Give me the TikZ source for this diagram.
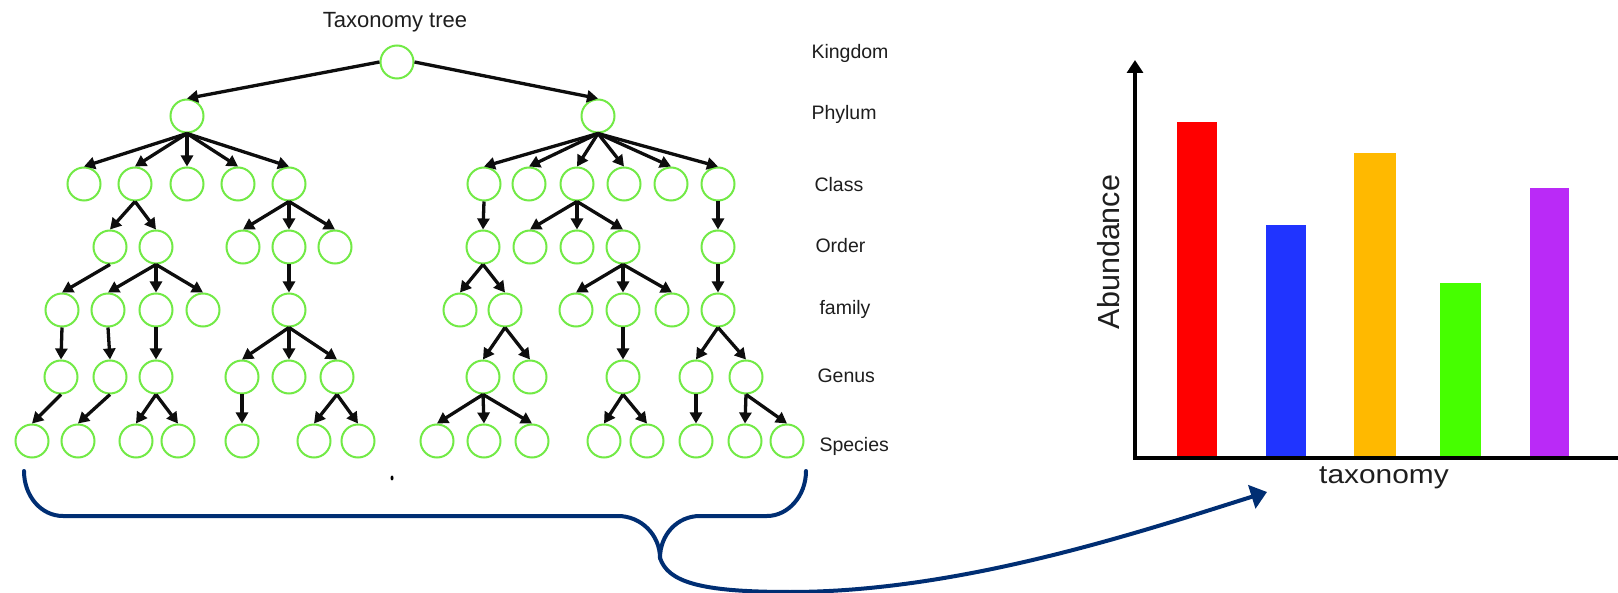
\documentclass[tikz,border=0pt]{standalone}
\usepackage{fontspec}
\setmainfont{Liberation Sans}
\usetikzlibrary{arrows.meta}
\definecolor{tgreen}{RGB}{114,234,70}
\definecolor{navy}{RGB}{0,46,115}
\definecolor{txt}{RGB}{30,30,30}
\definecolor{bred}{RGB}{255,0,0}
\definecolor{bblue}{RGB}{32,52,255}
\definecolor{borange}{RGB}{255,185,0}
\definecolor{bgreen}{RGB}{70,255,0}
\definecolor{bpurple}{RGB}{186,42,247}
\tikzset{
  tn/.style={circle, draw=tgreen, line width=2pt, minimum size=33pt, inner sep=0pt},
  arr/.style={-{Triangle[length=11pt,width=12pt]}, line width=3.3pt, black!95},
  lvl/.style={anchor=base west, text=txt, font=\fontsize{19.5}{22}\selectfont},
  axisline/.style={line width=4pt, black},
  bracepath/.style={navy, line width=4pt, line cap=round},
}
\begin{document}
\begin{tikzpicture}[x=1pt,y=-1pt]
\useasboundingbox (0,0) rectangle (1618,593);
\fill[white] (0,0) rectangle (1618,593);

% title
\node[anchor=base, text=txt, font=\fontsize{22}{26}\selectfont] (title) at (395,28) {Taxonomy tree};

% tree nodes
\node[tn] (r) at (397,62) {};
\node[tn] (pL) at (187,116) {};
\node[tn] (pR) at (598,116) {};
\foreach \n/\x in {cL1/84,cL2/135,cL3/187,cL4/238,cL5/289,cR1/484,cR2/529,cR3/577,cR4/624,cR5/671,cR6/718}
  \node[tn] (\n) at (\x,184) {};
\foreach \n/\x in {oL1/110,oL2/156,oL3/243,oL4/289,oL5/335,oR1/483,oR2/530,oR3/577,oR4/623,oR5/718}
  \node[tn] (\n) at (\x,247) {};
\foreach \n/\x in {fL1/62,fL2/108,fL3/156,fL4/203,fL5/289,fR1/460,fR2/505,fR3/576,fR4/623,fR5/672,fR6/718}
  \node[tn] (\n) at (\x,310) {};
\foreach \n/\x in {gL1/61,gL2/110,gL3/156,gL4/242,gL5/289,gL6/337,gR1/483,gR2/530,gR3/623,gR4/696,gR5/746}
  \node[tn] (\n) at (\x,377) {};
\foreach \n/\x in {sL1/32,sL2/78,sL3/136,sL4/178,sL5/242,sL6/314,sL7/358,sR1/437,sR2/484,sR3/532,sR4/604,sR5/647,sR6/696,sR7/745,sR8/787}
  \node[tn] (\n) at (\x,441) {};

% tree edges
\draw[arr] (r.west) -- (pL.north);
\draw[arr] (r.east) -- (pR.north);
\foreach \a/\b in {pL/cL1,pL/cL2,pL/cL3,pL/cL4,pL/cL5,
  cL2/oL1,cL2/oL2,cL5/oL3,cL5/oL4,cL5/oL5,
  oL1/fL1,oL2/fL2,oL2/fL3,oL2/fL4,oL4/fL5,
  fL1/gL1,fL2/gL2,fL3/gL3,fL5/gL4,fL5/gL5,fL5/gL6,
  gL1/sL1,gL2/sL2,gL3/sL3,gL3/sL4,gL4/sL5,gL6/sL6,gL6/sL7,
  pR/cR1,pR/cR2,pR/cR3,pR/cR4,pR/cR5,pR/cR6,
  cR1/oR1,cR3/oR2,cR3/oR3,cR3/oR4,cR6/oR5,
  oR1/fR1,oR1/fR2,oR4/fR3,oR4/fR4,oR4/fR5,oR5/fR6,
  fR2/gR1,fR2/gR2,fR4/gR3,fR6/gR4,fR6/gR5,
  gR1/sR1,gR1/sR2,gR1/sR3,gR3/sR4,gR3/sR5,gR4/sR6,gR5/sR7,gR5/sR8}
  \draw[arr] (\a.south) -- (\b.north);

% level labels
\node[lvl] (lk) at (808,59) {Kingdom};
\node[lvl] (lp) at (808,120) {Phylum};
\node[lvl] (lc) at (811,192) {Class};
\node[lvl] (lo) at (812,253) {Order};
\node[lvl] (lf) at (816,315) {family};
\node[lvl] (lg) at (814,383) {Genus};
\node[lvl] (ls) at (816,452) {Species};

% small mark
\fill[black] (392,478) ellipse (1.5 and 2.5);

% chart
\fill[bred] (1177,458) rectangle (1217,122);
\fill[bblue] (1266,458) rectangle (1306,225);
\fill[borange] (1354,458) rectangle (1396,153);
\fill[bgreen] (1440,458) rectangle (1481,283);
\fill[bpurple] (1530,458) rectangle (1569,188);
\coordinate (O) at (1135,458);
\coordinate (Ytop) at (1135,60);
\coordinate (Xend) at (1618,458);
\draw[axisline, -{Triangle[length=13pt,width=16pt]}] (O) -- (Ytop);
\draw[axisline] ([xshift=-2pt]O) -- (Xend);
\node[rotate=90, text=txt, font=\fontsize{30.5}{34}\selectfont] (ylab) at (1109,252) {Abundance};
\node[anchor=base, xscale=1.15, text=txt, font=\fontsize{26}{30}\selectfont] (xlab) at (1384,483) {taxonomy};

% brace and arrow
\coordinate (tip) at (660,558);
\coordinate (bl) at (24,471);
\coordinate (br) at (806,471);
\coordinate (aend) at (1267,492);
\draw[bracepath] (bl) .. controls (24,496) and (41,516) .. (63,516) -- (618,516)
  .. controls (641,516) and (660,535) .. (tip);
\draw[bracepath] (br) .. controls (806,496) and (788,516) .. (767,516) -- (700,516)
  .. controls (677,516) and (660,535) .. (tip);
\draw[bracepath, line cap=butt, -{Triangle[length=16pt,width=24pt]}] (tip) .. controls (668,582) and (700,592) .. (790,592)
  .. controls (960,592) and (1140,532) .. (aend);
\end{tikzpicture}
\end{document}
